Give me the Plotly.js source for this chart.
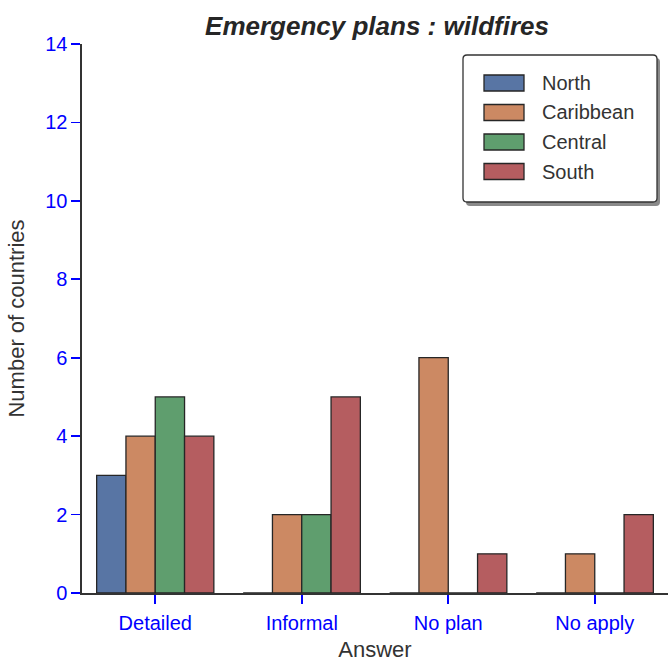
<!DOCTYPE html>
<html><head><meta charset="utf-8">
<script src="https://cdn.plot.ly/plotly-3.0.1.min.js"></script>
<style>body{margin:0;background:#fff}#chart{width:668px;height:662px}</style>
</head><body><div id="chart"></div>
<script>
const categories = ["Detailed", "Informal", "No plan", "No apply"];
const seriesNames = ["North", "Caribbean", "Central", "South"];
const north = [3, 0, 0, 0];
const caribbean = [4, 2, 6, 1];
const central = [5, 2, 0, 0];
const south = [4, 5, 1, 2];
const colors = ["#5875a4", "#cc8963", "#5f9e6e", "#b55d60"];
const yTicks = [0, 2, 4, 6, 8, 10, 12, 14];

const values = [north, caribbean, central, south];
const traces = values.map((v, i) => ({
  type: "bar", name: seriesNames[i], x: categories, y: v,
  marker: {color: colors[i], line: {color: "#262626", width: 1.3}},
  showlegend: false, hoverinfo: "none"
}));

const W = 668, H = 662, L = 82, R = 0, T = 44, B = 69;
const pw = W - L - R, ph = H - T - B;
const px = x => (x - L) / pw;
const py = y => (H - B - y) / ph;

function roundRect(x0, y0, x1, y1, r) {
  const X0 = px(x0), X1 = px(x1), Y0 = py(y0), Y1 = py(y1);
  const rx = r / pw, ry = r / ph;
  return `M${X0 + rx},${Y0} L${X1 - rx},${Y0} Q${X1},${Y0} ${X1},${Y0 - ry} L${X1},${Y1 + ry} Q${X1},${Y1} ${X1 - rx},${Y1} L${X0 + rx},${Y1} Q${X0},${Y1} ${X0},${Y1 + ry} L${X0},${Y0 - ry} Q${X0},${Y0} ${X0 + rx},${Y0} Z`;
}

const shapes = [
  {type: "path", xref: "paper", yref: "paper", path: roundRect(466, 58, 660, 206, 4),
   fillcolor: "#8a8a8a", line: {width: 0}, layer: "above"},
  {type: "path", xref: "paper", yref: "paper", path: roundRect(463, 55, 657, 202, 4),
   fillcolor: "#ffffff", line: {color: "#333333", width: 1.3}, layer: "above"}
];
const annotations = [];
seriesNames.forEach((n, i) => {
  const cy = 83 + i * 29.5;
  shapes.push({type: "rect", xref: "paper", yref: "paper",
    x0: px(484), x1: px(524), y0: py(cy - 8), y1: py(cy + 8),
    fillcolor: colors[i], line: {color: "#262626", width: 1.3}, layer: "above"});
  annotations.push({xref: "paper", yref: "paper", x: px(540), y: py(cy),
    xanchor: "left", yanchor: "middle", text: n, showarrow: false,
    font: {size: 20, color: "#333333", family: "Liberation Sans, Arial, sans-serif"}});
});

const layout = {
  width: W, height: H,
  margin: {l: L, r: R, t: T, b: B},
  paper_bgcolor: "#ffffff", plot_bgcolor: "#ffffff",
  font: {family: "Liberation Sans, Arial, sans-serif", color: "#333333"},
  barmode: "group", bargap: 0.2, bargroupgap: 0,
  title: {text: "Emergency plans : wildfires", x: px(377), xref: "paper", xanchor: "center",
    y: 1 - 26 / H, yref: "container", yanchor: "middle",
    font: {size: 26, weight: "bold", style: "italic", color: "#262626"}},
  xaxis: {
    type: "category", range: [-0.5, 3.5], showline: true, linecolor: "#333333", linewidth: 1.6,
    ticks: "outside", ticklen: 9, tickcolor: "#0000ff", tickwidth: 1.6, ticklabelstandoff: 2,
    tickfont: {size: 20, color: "#0000ff"}, showgrid: false, zeroline: false,
    title: {text: "Answer", font: {size: 22, color: "#333333"}, standoff: 11}
  },
  yaxis: {
    range: [0, 14], tickvals: yTicks, showline: true, linecolor: "#333333", linewidth: 1.6,
    ticks: "outside", ticklen: 9, tickcolor: "#0000ff", tickwidth: 1.6,
    tickfont: {size: 20, color: "#0000ff"}, showgrid: false, zeroline: false,
    title: {text: "Number of countries", font: {size: 22, color: "#333333"}, standoff: 14}
  },
  shapes: shapes, annotations: annotations, showlegend: false
};
Plotly.newPlot("chart", traces, layout, {staticPlot: true, displayModeBar: false});
</script></body></html>
